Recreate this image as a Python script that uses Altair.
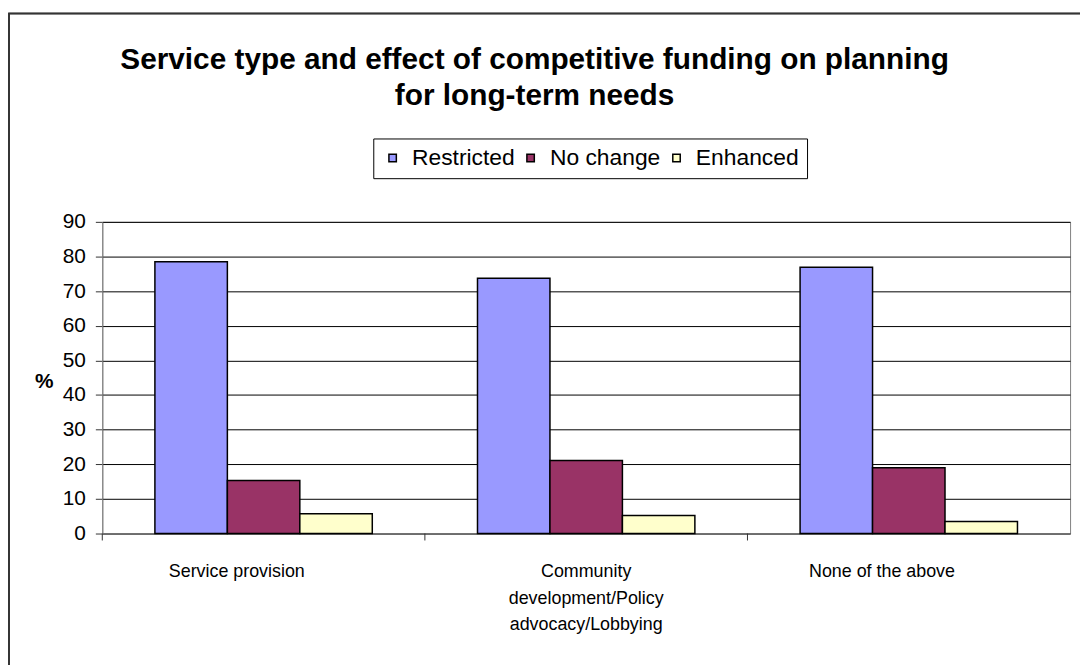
import altair as alt
import pandas as pd

categories = ["Service provision",
              "Community development/Policy advocacy/Lobbying",
              "None of the above"]
series = ["Restricted", "No change", "Enhanced"]
restricted = [78.5, 73.7, 76.9]
no_change = [15.3, 21.1, 19.0]
enhanced = [5.7, 5.2, 3.5]
colors = ["#9999FF", "#993366", "#FFFFCC"]
y_ticks = [0, 10, 20, 30, 40, 50, 60, 70, 80, 90]

rows = []
for i, c in enumerate(categories):
    for s, vals in zip(series, [restricted, no_change, enhanced]):
        rows.append({"category": c, "series": s, "value": vals[i]})
df = pd.DataFrame(rows)
cat_df = pd.DataFrame({"category": categories})

FONT = "Liberation Sans"
MID = "Community development/Policy advocacy/Lobbying"

label_expr = ("datum.value == '" + MID + "' ? "
              "['Community', 'development/Policy', 'advocacy/Lobbying'] : datum.value")

x_enc = alt.X("category:N", sort=categories,
              scale=alt.Scale(paddingInner=0, paddingOuter=0),
              axis=alt.Axis(title=None, ticks=False, labelAngle=0, labelFont=FONT,
                            labelFontSize=18, labelColor="#000", labelPadding=29,
                            labelLineHeight=27, labelExpr=label_expr,
                            labelOffset=alt.expr("datum.value == '" + MID + "' ? 0 : -27"),
                            domainColor="#808080", grid=False, labelLimit=400))

bars = alt.Chart(df).mark_bar(stroke="#000", strokeWidth=1.5).encode(
    x=x_enc,
    xOffset=alt.XOffset("series:N", sort=series,
                        scale=alt.Scale(paddingOuter=0.726, paddingInner=0)),
    y=alt.Y("value:Q", scale=alt.Scale(domain=[0, 90], nice=False),
            axis=alt.Axis(values=y_ticks, tickSize=7, labelPadding=10, labelFont=FONT,
                          labelFontSize=21, labelColor="#000", domainColor="#808080",
                          tickColor="#333", gridColor="#000", gridWidth=1,
                          title="%", titleAngle=0, titleFont=FONT, titleFontSize=21,
                          titleFontWeight="bold", titleColor="#000", titleX=-59, titleY=161,
                          titleAlign="center", titleBaseline="middle")),
    color=alt.Color("series:N", sort=series,
                    scale=alt.Scale(domain=series, range=colors),
                    legend=alt.Legend(orient="none", legendX=273, legendY=-84,
                                      direction="horizontal", title=None,
                                      strokeColor="#000", fillColor="#fff", padding=8,
                                      symbolType="square", symbolSize=56,
                                      symbolStrokeColor="#000", symbolStrokeWidth=1.5,
                                      symbolOpacity=1,
                                      labelFont=FONT, labelFontSize=23, labelColor="#000",
                                      labelOffset=8, columnPadding=4)),
)

ticks = alt.Chart(cat_df).mark_rule(color="#333", strokeWidth=1).encode(
    x=alt.X("category:N", sort=categories, bandPosition=0),
    y=alt.value(314), y2=alt.value(321),
)

frame = alt.Chart(cat_df).mark_rect(fill=None, stroke="#333", strokeWidth=1.5).encode(
    x=alt.value(-94), x2=alt.value(1010), y=alt.value(-210), y2=alt.value(480)
)

chart = alt.layer(frame, bars, ticks).properties(
    width=975, height=314,
    padding={"left": 95, "top": 213, "right": 10, "bottom": 130},
    autosize=alt.AutoSizeParams(type="none"),
    title=alt.TitleParams(
        text=["Service type and effect of competitive funding on planning",
              "for long-term needs"],
        font=FONT, fontSize=30, fontWeight="bold", color="#000",
        anchor="middle", frame="group", dx=-52, dy=109, lineHeight=36, offset=10),
).configure_view(stroke="#808080", strokeWidth=1)

chart.save("out.html", embed_options={"renderer": "svg", "actions": False})
